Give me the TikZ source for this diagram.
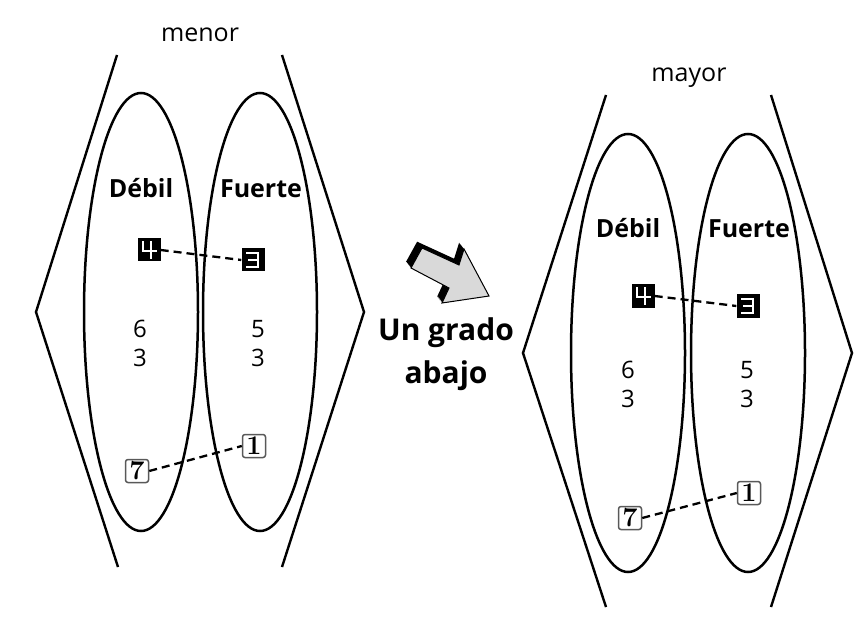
\documentclass[tikz,border=0pt]{standalone}
\usepackage{fontspec}
\setmainfont{Open Sans}
\newfontfamily\lmfont{Latin Modern Roman}
\usetikzlibrary{shapes.geometric}
\begin{document}
\begin{tikzpicture}[x=1pt,y=-1pt,
  outline/.style={line width=2.4pt, line join=miter},
  oval/.style={draw, ellipse, line width=2.5pt, minimum width=114pt, minimum height=438pt, inner sep=0pt},
  blackbox/.style={fill=black, minimum size=23pt, inner sep=0pt},
  whitebox/.style={draw=black!65, fill=white, rounded corners=2.5pt, line width=1.5pt, minimum size=23pt, inner sep=0pt, font=\fontsize{27}{27}\selectfont\lmfont\bfseries},
  seg/.style={white, line width=2pt, line cap=rect},
  link/.style={line width=2.3pt, dash pattern=on 8pt off 5pt},
  title/.style={font=\fontsize{25}{25}\selectfont, anchor=base},
  head/.style={font=\fontsize{25}{25}\selectfont\bfseries, anchor=base},
  num/.style={font=\fontsize{24}{24}\selectfont, anchor=base},
  big/.style={font=\fontsize{30}{30}\selectfont\bfseries, anchor=base}
]
\useasboundingbox (0,0) rectangle (861,617);

% ---------- left figure (menor) ----------
\node[title] (tmenor) at (200,42) {menor};
\draw[outline] (117,55) -- (36,312) -- (118,567);
\draw[outline] (282,55) -- (364,312) -- (282,567);
\node[oval] (weakL) at (141,312) {};
\node[oval] (strongL) at (260,312) {};
\node[head] (dL) at (141,198) {Débil};
\node[head] (fL) at (261,198) {Fuerte};
\node[blackbox] (b4L) at (149,250) {};
\node[blackbox] (b3L) at (253,260) {};
\node[num] (n6L) at (140,337) {6};
\node[num] (n3aL) at (140,366) {3};
\node[num] (n5L) at (258,337) {5};
\node[num] (n3bL) at (258,366) {3};
\node[whitebox] (b7L) at (137,471) {7};
\node[whitebox] (b1L) at (254,446) {1};
\draw[link] (b4L.east) -- (b3L.west);
\draw[link] (b7L.east) -- (b1L.west);

% ---------- right figure (mayor) ----------
\node[title] (tmayor) at (689,82) {mayor};
\draw[outline] (606,95) -- (523,353) -- (606,607);
\draw[outline] (771,95) -- (852,353) -- (771,607);
\node[oval] (weakR) at (628,353) {};
\node[oval] (strongR) at (748,353) {};
\node[head] (dR) at (628,238) {Débil};
\node[head] (fR) at (749,238) {Fuerte};
\node[blackbox] (b4R) at (643,296) {};
\node[blackbox] (b3R) at (748,306) {};
\node[num] (n6R) at (628,378) {6};
\node[num] (n3aR) at (628,407) {3};
\node[num] (n5R) at (747,378) {5};
\node[num] (n3bR) at (747,407) {3};
\node[whitebox] (b7R) at (630,518) {7};
\node[whitebox] (b1R) at (749,493) {1};
\draw[link] (b4R.east) -- (b3R.west);
\draw[link] (b7R.east) -- (b1R.west);

% ---------- seven-segment style digits ----------
\foreach \b in {b4L,b4R}{
  \draw[seg] ([shift={(-6,-8)}]\b.center) -- ([shift={(-6,1.5)}]\b.center) -- ([shift={(6.5,1.5)}]\b.center);
  \draw[seg] ([shift={(1.5,-8)}]\b.center) -- ([shift={(1.5,8)}]\b.center);
}
\foreach \b in {b3L,b3R}{
  \draw[seg] ([shift={(-6,-7)}]\b.center) -- ([shift={(5,-7)}]\b.center) -- ([shift={(5,7)}]\b.center) -- ([shift={(-6,7)}]\b.center);
  \draw[seg] ([shift={(-4,0)}]\b.center) -- ([shift={(5,0)}]\b.center);
}

% ---------- block arrow ----------
\foreach \s in {0,1,...,7}{
  \fill[black, shift={(-0.7*\s,-0.9*\s)}] (422,248) -- (459,265) -- (464,249) -- (489,296) -- (442,303) -- (449,288) -- (411,268) -- cycle;
}
\filldraw[fill=black!15, draw=black, line width=1pt, line join=miter] (422,248) -- (459,265) -- (464,249) -- (489,296) -- (442,303) -- (449,288) -- (411,268) -- cycle;

\node[big] (ug) at (446,340) {Un grado};
\node[big] (ab) at (446,383) {abajo};
\end{tikzpicture}
\end{document}
